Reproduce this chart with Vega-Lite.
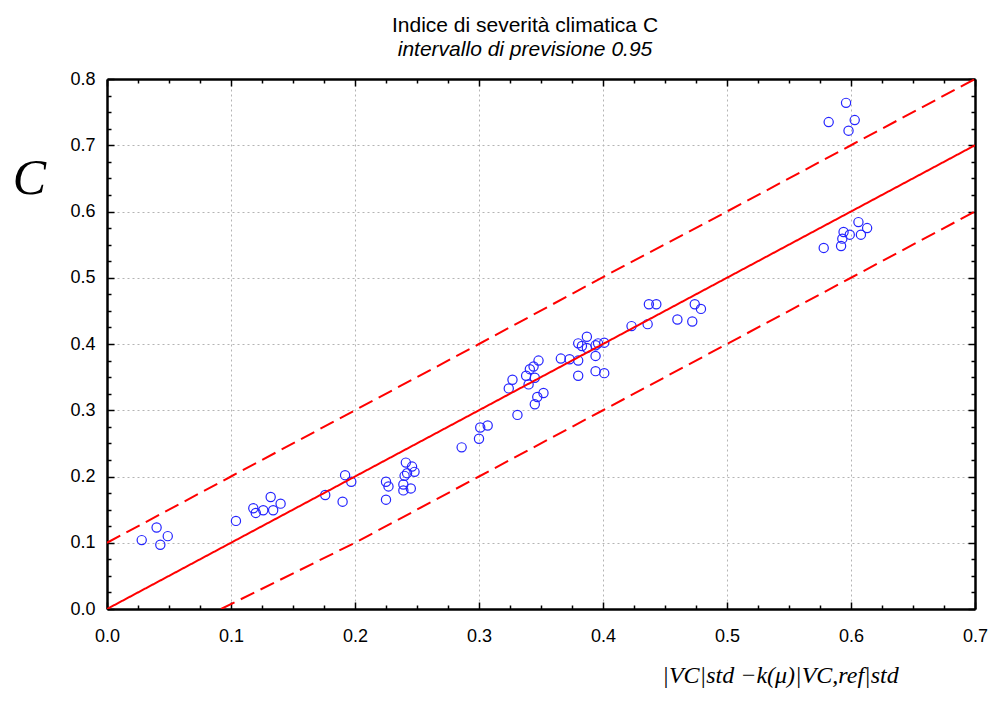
{
  "$schema": "https://vega.github.io/schema/vega-lite/v6.json",
  "autosize": {"type": "none"},
  "padding": {"left": 107, "top": 79, "right": 15, "bottom": 115},
  "width": 868,
  "height": 530,
  "background": "white",
  "config": {"view": {"stroke": null}},
  "title": {
    "text": "Indice di severità climatica C",
    "subtitle": "intervallo di previsione 0.95",
    "font": "Liberation Sans",
    "fontSize": 21,
    "fontWeight": "normal",
    "subtitleFont": "Liberation Sans",
    "subtitleFontSize": 21,
    "subtitleFontStyle": "italic",
    "subtitleColor": "black",
    "subtitlePadding": 3,
    "color": "black",
    "anchor": "middle",
    "dx": -16,
    "offset": 10
  },
  "datasets": {
    "pts": [
      {"x": 0.028, "y": 0.104}, {"x": 0.040, "y": 0.123}, {"x": 0.049, "y": 0.110}, {"x": 0.043, "y": 0.097},
      {"x": 0.104, "y": 0.133}, {"x": 0.118, "y": 0.152}, {"x": 0.120, "y": 0.145}, {"x": 0.126, "y": 0.149},
      {"x": 0.132, "y": 0.169}, {"x": 0.134, "y": 0.149}, {"x": 0.140, "y": 0.159},
      {"x": 0.176, "y": 0.172}, {"x": 0.190, "y": 0.162}, {"x": 0.192, "y": 0.202}, {"x": 0.197, "y": 0.192},
      {"x": 0.225, "y": 0.192}, {"x": 0.227, "y": 0.185}, {"x": 0.225, "y": 0.165},
      {"x": 0.241, "y": 0.221}, {"x": 0.246, "y": 0.215}, {"x": 0.248, "y": 0.207}, {"x": 0.242, "y": 0.205},
      {"x": 0.240, "y": 0.201}, {"x": 0.239, "y": 0.188}, {"x": 0.239, "y": 0.179}, {"x": 0.245, "y": 0.182},
      {"x": 0.286, "y": 0.244}, {"x": 0.300, "y": 0.257}, {"x": 0.301, "y": 0.274}, {"x": 0.307, "y": 0.277},
      {"x": 0.331, "y": 0.293}, {"x": 0.324, "y": 0.333}, {"x": 0.327, "y": 0.346}, {"x": 0.340, "y": 0.339},
      {"x": 0.338, "y": 0.352}, {"x": 0.345, "y": 0.349}, {"x": 0.341, "y": 0.362}, {"x": 0.344, "y": 0.366},
      {"x": 0.348, "y": 0.375}, {"x": 0.345, "y": 0.309}, {"x": 0.347, "y": 0.320}, {"x": 0.352, "y": 0.326},
      {"x": 0.366, "y": 0.378}, {"x": 0.373, "y": 0.377}, {"x": 0.380, "y": 0.375}, {"x": 0.380, "y": 0.352},
      {"x": 0.380, "y": 0.401}, {"x": 0.387, "y": 0.411}, {"x": 0.387, "y": 0.394}, {"x": 0.383, "y": 0.397},
      {"x": 0.394, "y": 0.398}, {"x": 0.396, "y": 0.401}, {"x": 0.401, "y": 0.402}, {"x": 0.394, "y": 0.382},
      {"x": 0.394, "y": 0.359}, {"x": 0.401, "y": 0.356},
      {"x": 0.423, "y": 0.427}, {"x": 0.436, "y": 0.430}, {"x": 0.437, "y": 0.460}, {"x": 0.443, "y": 0.460},
      {"x": 0.460, "y": 0.437}, {"x": 0.472, "y": 0.434}, {"x": 0.474, "y": 0.460}, {"x": 0.479, "y": 0.453},
      {"x": 0.578, "y": 0.545}, {"x": 0.592, "y": 0.548}, {"x": 0.593, "y": 0.559}, {"x": 0.594, "y": 0.569},
      {"x": 0.599, "y": 0.565}, {"x": 0.606, "y": 0.584}, {"x": 0.608, "y": 0.565}, {"x": 0.613, "y": 0.575},
      {"x": 0.582, "y": 0.735}, {"x": 0.596, "y": 0.764}, {"x": 0.603, "y": 0.738}, {"x": 0.598, "y": 0.722}
    ],
    "lines": [
      {"series": "fit", "x": 0.0, "y": 0.0}, {"series": "fit", "x": 0.7, "y": 0.7},
      {"series": "upper", "x": 0.0, "y": 0.1}, {"series": "upper", "x": 0.1, "y": 0.2},
      {"series": "upper", "x": 0.2, "y": 0.3}, {"series": "upper", "x": 0.3, "y": 0.4},
      {"series": "upper", "x": 0.4, "y": 0.501}, {"series": "upper", "x": 0.5, "y": 0.6},
      {"series": "upper", "x": 0.6, "y": 0.7}, {"series": "upper", "x": 0.7, "y": 0.8},
      {"series": "lower", "x": 0.092, "y": 0.0}, {"series": "lower", "x": 0.2, "y": 0.1},
      {"series": "lower", "x": 0.3, "y": 0.2}, {"series": "lower", "x": 0.4, "y": 0.3},
      {"series": "lower", "x": 0.5, "y": 0.4}, {"series": "lower", "x": 0.6, "y": 0.5},
      {"series": "lower", "x": 0.7, "y": 0.6}
    ]
  },
  "layer": [
    {
      "data": {"name": "pts"},
      "mark": {"type": "point", "shape": "circle", "filled": false, "stroke": "#2424ff", "strokeWidth": 1.2, "size": 85, "opacity": 1},
      "encoding": {
        "x": {
          "field": "x", "type": "quantitative",
          "scale": {"domain": [0, 0.7], "nice": false, "zero": false},
          "axis": {
            "orient": "bottom",
            "values": [0, 0.025, 0.05, 0.075, 0.1, 0.125, 0.15, 0.175, 0.2, 0.225, 0.25, 0.275, 0.3, 0.325, 0.35, 0.375, 0.4, 0.425, 0.45, 0.475, 0.5, 0.525, 0.55, 0.575, 0.6, 0.625, 0.65, 0.675, 0.7],
            "labelExpr": "round(datum.value*40) % 4 === 0 ? format(datum.value, '.1f') : ''",
            "tickSize": {"condition": {"test": "round(datum.value*40) % 4 === 0", "value": -7}, "value": -4},
            "tickColor": "black", "tickWidth": 1.5,
            "grid": true, "gridColor": "#b4b4b4", "gridDash": [2, 3], "gridWidth": 1,
            "gridOpacity": {"condition": {"test": "round(datum.value*40) % 4 === 0", "value": 1}, "value": 0},
            "domainColor": "black", "domainWidth": 2.5,
            "labelFont": "Liberation Sans", "labelFontSize": 18, "labelColor": "black", "labelPadding": 25,
            "labelFlush": false, "labelOverlap": false,
            "title": "|VC|std −k(μ)|VC,ref|std",
            "titleFont": "Liberation Serif", "titleFontStyle": "italic", "titleFontWeight": "normal", "titleFontSize": 24,
            "titleColor": "black", "titleX": 673, "titleY": 73, "titleAlign": "center", "titleBaseline": "alphabetic"
          }
        },
        "y": {
          "field": "y", "type": "quantitative",
          "scale": {"domain": [0, 0.8], "nice": false, "zero": false},
          "axis": {
            "orient": "left",
            "values": [0, 0.025, 0.05, 0.075, 0.1, 0.125, 0.15, 0.175, 0.2, 0.225, 0.25, 0.275, 0.3, 0.325, 0.35, 0.375, 0.4, 0.425, 0.45, 0.475, 0.5, 0.525, 0.55, 0.575, 0.6, 0.625, 0.65, 0.675, 0.7, 0.725, 0.75, 0.775, 0.8],
            "labelExpr": "round(datum.value*40) % 4 === 0 ? format(datum.value, '.1f') : ''",
            "tickSize": {"condition": {"test": "round(datum.value*40) % 4 === 0", "value": -7}, "value": -4},
            "tickColor": "black", "tickWidth": 1.5,
            "grid": true, "gridColor": "#b4b4b4", "gridDash": [2, 3], "gridWidth": 1,
            "gridOpacity": {"condition": {"test": "round(datum.value*40) % 4 === 0", "value": 1}, "value": 0},
            "domainColor": "black", "domainWidth": 2.5,
            "labelFont": "Liberation Sans", "labelFontSize": 18, "labelColor": "black", "labelPadding": 19,
            "labelFlush": false, "labelOverlap": false,
            "title": "C",
            "titleFont": "Liberation Serif", "titleFontStyle": "italic", "titleFontWeight": "normal", "titleFontSize": 50,
            "titleColor": "black", "titleAngle": 0, "titleX": -78, "titleY": 114, "titleAlign": "center", "titleBaseline": "alphabetic"
          }
        }
      }
    },
    {
      "data": {"name": "lines"},
      "mark": {"type": "line", "color": "#ff0000", "strokeWidth": 2, "clip": true},
      "encoding": {
        "x": {
          "field": "x", "type": "quantitative",
          "axis": {
            "orient": "top",
            "values": [0, 0.025, 0.05, 0.075, 0.1, 0.125, 0.15, 0.175, 0.2, 0.225, 0.25, 0.275, 0.3, 0.325, 0.35, 0.375, 0.4, 0.425, 0.45, 0.475, 0.5, 0.525, 0.55, 0.575, 0.6, 0.625, 0.65, 0.675, 0.7],
            "labels": false, "grid": false, "title": null,
            "tickSize": {"condition": {"test": "round(datum.value*40) % 4 === 0", "value": -7}, "value": -4},
            "tickColor": "black", "tickWidth": 1.5,
            "domainColor": "black", "domainWidth": 2.5
          }
        },
        "y": {
          "field": "y", "type": "quantitative",
          "axis": {
            "orient": "right",
            "values": [0, 0.025, 0.05, 0.075, 0.1, 0.125, 0.15, 0.175, 0.2, 0.225, 0.25, 0.275, 0.3, 0.325, 0.35, 0.375, 0.4, 0.425, 0.45, 0.475, 0.5, 0.525, 0.55, 0.575, 0.6, 0.625, 0.65, 0.675, 0.7, 0.725, 0.75, 0.775, 0.8],
            "labels": false, "grid": false, "title": null,
            "tickSize": {"condition": {"test": "round(datum.value*40) % 4 === 0", "value": -7}, "value": -4},
            "tickColor": "black", "tickWidth": 1.5,
            "domainColor": "black", "domainWidth": 2.5
          }
        },
        "detail": {"field": "series", "type": "nominal"},
        "strokeDash": {
          "field": "series", "type": "nominal",
          "scale": {"domain": ["fit", "upper", "lower"], "range": [[1, 0], [15, 7], [15, 7]]},
          "legend": null
        }
      }
    }
  ],
  "resolve": {"axis": {"x": "independent", "y": "independent"}}
}
